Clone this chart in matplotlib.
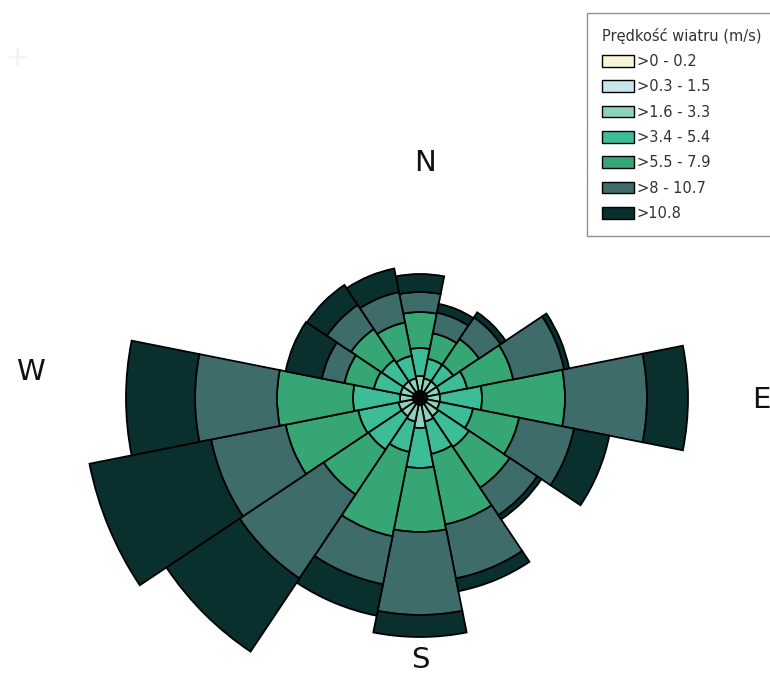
import numpy as np
import matplotlib
matplotlib.use("Agg")
import matplotlib.pyplot as plt
from matplotlib.patches import Patch

# 16 wind directions, clockwise from N
directions = ["N", "NNE", "NE", "ENE", "E", "ESE", "SE", "SSE",
              "S", "SSW", "SW", "WSW", "W", "WNW", "NW", "NNW"]

# frequency (%) of each speed class per direction
speed_labels = [">0 - 0.2", ">0.3 - 1.5", ">1.6 - 3.3", ">3.4 - 5.4",
                ">5.5 - 7.9", ">8 - 10.7", ">10.8"]
calm = [0.1] * 16
light_air = [0.25] * 16
light_breeze = [0.75, 0.65, 0.65, 0.65, 0.65, 0.65, 0.75, 0.85,
                1.15, 0.85, 0.75, 0.75, 0.65, 0.65, 0.65, 0.65]
gentle = [1.4, 1.0, 1.0, 1.4, 2.1, 1.7, 1.85, 1.65,
          2.0, 1.55, 2.0, 2.05, 2.35, 1.35, 1.3, 1.15]
moderate = [1.8, 1.3, 1.55, 2.35, 4.15, 2.35, 2.45, 3.6,
            3.2, 4.3, 2.7, 3.7, 3.8, 1.5, 1.85, 1.7]
fresh = [1.0, 1.05, 1.3, 2.6, 4.1, 2.8, 1.65, 2.75,
         4.15, 2.45, 5.05, 3.8, 4.1, 1.15, 1.45, 1.55]
strong = [0.9, 0.45, 0.3, 0.25, 2.05, 1.8, 0.25, 0.65,
          1.1, 1.6, 4.4, 6.2, 3.45, 1.85, 1.2, 1.2]

series = [calm, light_air, light_breeze, gentle, moderate, fresh, strong]
colors = ["#f8f6d6", "#c8e6ec", "#8dd2bd", "#3cbc97", "#37a675", "#3d6c6b", "#0a2f2f"]

W, H = 770, 673
fig = plt.figure(figsize=(W / 100, H / 100), dpi=100)

# polar axes centred on the rose centre
cx, cy, rpx = 420, 398, 350
ax = fig.add_axes([(cx - rpx) / W, (H - cy - rpx) / H, 2 * rpx / W, 2 * rpx / H],
                  projection="polar")
ax.set_theta_zero_location("N")
ax.set_theta_direction(-1)

theta = np.arange(16) * 2 * np.pi / 16
width = 2 * np.pi / 16
bottom = np.zeros(16)
for vals, col in zip(series, colors):
    vals = np.array(vals)
    ax.bar(theta, vals, width=width, bottom=bottom, color=col,
           edgecolor="black", linewidth=1.3, align="center")
    bottom += vals

ax.set_ylim(0, 17.5)
ax.grid(False)
ax.set_xticks([])
ax.set_yticks([])
ax.spines["polar"].set_visible(False)
ax.patch.set_alpha(0)

# compass labels
lab_kw = dict(fontsize=21, ha="center", va="center", color="#111111")
fig.text(425 / W, 1 - 163 / H, "N", **lab_kw)
fig.text(761 / W, 1 - 400 / H, "E", **lab_kw)
fig.text(30 / W, 1 - 372 / H, "W", **lab_kw)
fig.text(420 / W, 1 - 660 / H, "S", **lab_kw)

# faint crosshair mark in the top-left corner
fig.text(18 / W, 1 - 58 / H, "+", fontsize=20, ha="center", va="center",
         color="#f2f2f2")

handles = [Patch(facecolor=c, edgecolor="black", linewidth=1.0) for c in colors]
leg = fig.legend(handles, speed_labels, title="Prędkość wiatru (m/s)",
                 loc="upper left", bbox_to_anchor=(587 / W, 1 - 13 / H),
                 fontsize=10.5, title_fontsize=10.5, frameon=True, fancybox=False,
                 handlelength=2.2, handleheight=0.85, labelspacing=0.71,
                 handletextpad=0.2, borderpad=1.0, borderaxespad=0)
leg.get_frame().set_edgecolor("#777777")
leg.get_frame().set_linewidth(1.0)
leg._legend_box.align = "left"
for t in leg.get_texts():
    t.set_color("#333333")
leg.get_title().set_color("#333333")

fig.savefig("out.png", dpi=100)
